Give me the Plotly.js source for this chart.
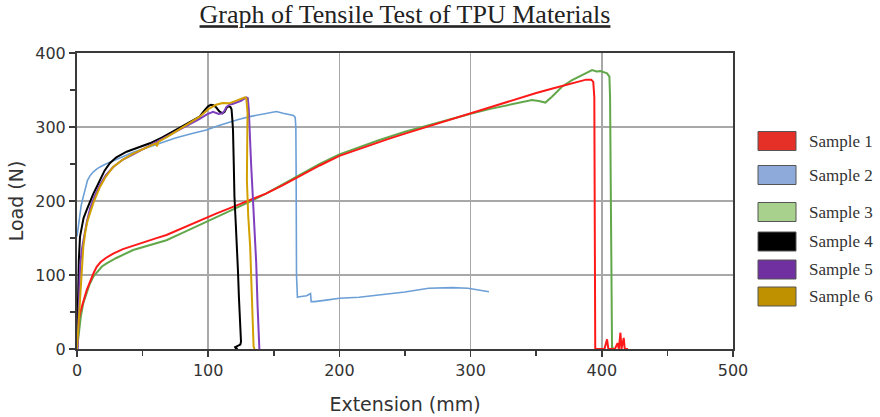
<!DOCTYPE html>
<html>
<head>
<meta charset="utf-8">
<script src="https://cdn.plot.ly/plotly-3.0.1.min.js"></script>
<style>
  html, body { margin: 0; padding: 0; background: #fff; }
  #chart { width: 880px; height: 417px; }
</style>
</head>
<body>
<div id="chart"></div>
<script>
// ---- Data ----
const sampleNames = ["Sample 1", "Sample 2", "Sample 3", "Sample 4", "Sample 5", "Sample 6"];
const lineColors  = ["#ff1a1a", "#6b9fd6", "#62a74a", "#000000", "#7f3fbf", "#d1a000"];
const swatchColors = ["#e53027", "#8eaadb", "#a9d18e", "#000000", "#7030a0", "#bf9000"];

const s1x = [0, 0.5, 1.2, 2.3, 3.5, 5, 7.4, 10, 12.5, 15, 18, 22, 27.6, 35, 47.9, 60, 68.2, 80, 93.5, 106, 118.9, 131, 144, 157, 170, 185, 200, 212.5, 225, 237.5, 250, 262.5, 275, 287.5, 300, 312.5, 325, 337.5, 350, 362.5, 375, 383, 388, 392, 393.5, 394.3, 394.7, 395, 398, 402, 404, 405, 410, 412, 413, 414.2, 415, 416.7, 417.5, 420];
const s1y = [0, 20, 38, 48.6, 55, 65, 79.7, 92, 102, 111, 117.5, 123, 129, 135, 142.8, 149.5, 154, 163, 174, 183, 192, 201, 210, 221.5, 234, 248, 261, 269, 277, 284, 291, 298, 305, 311.5, 318, 325, 332, 339.5, 346, 352, 358, 362.5, 364, 364, 361, 340, 200, 0, 0, 0, 13, 0, 0, 8, 0, 22, 0, 15, 0, 0];

const s2x = [0, 0.4, 1, 2, 3.2, 4.8, 6.5, 8, 9.9, 12.5, 15, 17.5, 22, 30, 42.8, 60, 75, 87, 98.6, 107, 115, 123, 131.6, 138, 144, 152, 157, 162, 165, 166.3, 166.8, 167, 167.3, 168, 169.6, 175, 178, 178.5, 181, 190, 200, 215, 230, 250, 268, 286, 298, 305, 314];
const s2y = [152, 157, 166, 180, 194, 206, 219, 228, 234, 239.5, 243, 246, 250, 256, 266, 276, 285, 291, 296, 301.5, 306, 310, 314, 316.5, 318.5, 321, 318.5, 316, 315.5, 313, 300, 250, 100, 70, 70.7, 72, 75, 64, 64, 66, 68.5, 70, 73, 77, 82, 83, 82, 80, 77.4];

const s3x = [0, 0.7, 1.5, 3, 4.8, 7, 9.5, 12.4, 16, 19, 22.6, 30, 42.8, 55, 68.2, 80, 93.5, 106, 118.9, 131, 144, 157, 170, 185, 200, 215, 230, 250, 275, 300, 315, 331.6, 346.8, 352, 357, 362, 369.6, 377, 385, 392.6, 396, 399, 404, 405.8, 406.3, 406.6, 407.2, 407.8, 409];
const s3y = [0, 12, 25, 45, 62, 75, 87, 97.7, 106, 111.5, 115.8, 123, 133.8, 140, 147, 156.5, 167.6, 177.5, 187.8, 198.5, 210, 223, 236, 250, 263, 273, 282, 293.6, 306, 318, 324.5, 331, 336.5, 335, 333, 341, 354.5, 363, 370, 377, 375, 375.5, 372.5, 368, 340, 251, 60, 2, 2];

const s4x = [0, 0.4, 0.8, 1.4, 2.3, 3.5, 5, 7.4, 10, 12.5, 15, 18, 21, 25, 30, 37.8, 45, 55.5, 65, 73, 83, 93.5, 97, 99.9, 102, 104, 106, 108.5, 110.8, 112.5, 114, 115.5, 117, 117.8, 118.4, 118.9, 119.5, 120, 121, 121.9, 122.7, 123.4, 124, 124.5, 125, 124.5, 122, 120.5, 121, 122.5];
const s4y = [0, 40, 80, 120, 152, 166, 177, 188, 200, 210, 219, 230, 241, 251, 259, 266.6, 271, 278, 286, 293.7, 303, 314, 322, 328, 330, 329.5, 326.6, 321, 318.5, 320.5, 326, 328, 327, 324, 310, 296, 250, 206, 170, 141, 105, 70.7, 40, 20, 10, 6, 4, 2.5, 1, 0];

const s5x = [0, 0.5, 1, 1.5, 2.3, 3.5, 5, 7.5, 10, 13.5, 17.5, 22, 27.6, 35, 42.8, 50, 60.6, 70, 78.3, 86, 93.5, 99, 103.7, 106, 108, 110.8, 112.5, 113.8, 116, 119, 125, 129, 130.2, 130.9, 131.5, 132.7, 134, 135.3, 136.6, 137.6, 138.6, 139];
const s5y = [0, -3, 30, 70, 110, 133, 150, 172, 190, 207, 222, 235, 246, 256, 263, 270, 280, 289, 297, 304, 311, 317, 320.5, 319, 317.5, 318.5, 322, 327, 330, 331.5, 335.5, 340, 339, 325, 296, 250, 206, 160, 116, 60, 3, 0];

const s6x = [0, 1, 2.3, 3.5, 4.8, 6.5, 8, 9.9, 13, 17.5, 22, 27.6, 35, 42.8, 50, 60, 61, 62, 70, 78.3, 86, 93.5, 100, 106, 111, 116, 122, 128, 129, 129.6, 130, 129.8, 129.5, 130.5, 132, 133.3, 134.6, 135.4];
const s6y = [0, 30, 70.7, 108, 138, 160, 173, 183.6, 200, 219, 233, 246, 256, 264, 270, 278, 274, 280, 288, 297, 305.5, 314, 324, 330, 332.5, 332, 336, 340, 339, 330, 319, 290, 228, 180, 138, 70, 3, 0];

const xTicks = [0, 100, 200, 300, 400, 500];
const yTicks = [0, 100, 200, 300, 400];

// ---- Build traces ----
const xs = [s1x, s2x, s3x, s4x, s5x, s6x];
const ys = [s1y, s2y, s3y, s4y, s5y, s6y];
const widths = [2, 1.6, 2, 2, 2, 2];
const order = [1, 2, 0, 3, 4, 5];
const traces = order.map(i => ({
  type: "scatter", mode: "lines",
  x: xs[i], y: ys[i], name: sampleNames[i],
  line: { color: lineColors[i], width: widths[i] },
  showlegend: false, hoverinfo: "skip"
}));

// ---- Plot geometry (pixels) ----
const L = 77, R = 733, T = 53, B = 349;
const W = 880, H = 417;
const pw = R - L, ph = B - T;
const px2x = px => (px - L) / pw;
const py2y = py => (B - py) / ph;

// Legend (custom swatches as in the reference)
const legendCenters = [141, 175, 212, 241.5, 269.5, 296.5];
const shapes = [];
const annotations = [];
sampleNames.forEach((n, i) => {
  const cy = legendCenters[i];
  shapes.push({
    type: "rect", xref: "paper", yref: "paper",
    x0: px2x(758), x1: px2x(796), y0: py2y(cy + 9.5), y1: py2y(cy - 9.5),
    fillcolor: swatchColors[i], line: { color: "#555", width: 1 }
  });
  annotations.push({
    xref: "paper", yref: "paper", x: px2x(807), y: py2y(cy),
    xanchor: "left", yanchor: "middle", showarrow: false,
    text: n, font: { family: "Liberation Serif, Times New Roman, serif", size: 17, color: "#333" }
  });
});

const axisCommon = {
  showline: true, linecolor: "#3a3a3a", linewidth: 2, mirror: true,
  showgrid: true, gridcolor: "#a8a8a8", gridwidth: 1.5,
  zeroline: false,
  ticks: "outside", ticklen: 6, tickwidth: 1.5, tickcolor: "#3a3a3a",
  tickfont: { family: "DejaVu Sans, Verdana, sans-serif", size: 16, color: "#333" },
  minor: { dtick: 50, ticks: "outside", ticklen: 5, tickwidth: 1.5, tickcolor: "#3a3a3a", showgrid: false }
};

const layout = {
  width: W, height: H,
  margin: { l: L, r: W - R, t: T, b: H - B, pad: 0 },
  paper_bgcolor: "#fff", plot_bgcolor: "#fff",
  title: {
    text: "Graph of Tensile Test of TPU Materials",
    x: 0.5, xref: "paper", xanchor: "center",
    y: 0.988, yref: "container", yanchor: "top",
    font: { family: "Liberation Serif, Times New Roman, serif", size: 26, color: "#222", lineposition: "under" }
  },
  xaxis: Object.assign({}, axisCommon, {
    range: [0, 500], tickvals: xTicks, ticktext: xTicks.map(String),
    title: { text: "Extension (mm)", standoff: 18, font: { family: "DejaVu Sans, Verdana, sans-serif", size: 19, color: "#333" } }
  }),
  yaxis: Object.assign({}, axisCommon, {
    range: [0, 400], tickvals: yTicks, ticktext: yTicks.map(String),
    title: { text: "Load (N)", standoff: 7, font: { family: "DejaVu Sans, Verdana, sans-serif", size: 19, color: "#333" } }
  }),
  shapes: shapes,
  annotations: annotations,
  showlegend: false
};

Plotly.newPlot("chart", traces, layout, { displayModeBar: false, staticPlot: true });
</script>
</body>
</html>
